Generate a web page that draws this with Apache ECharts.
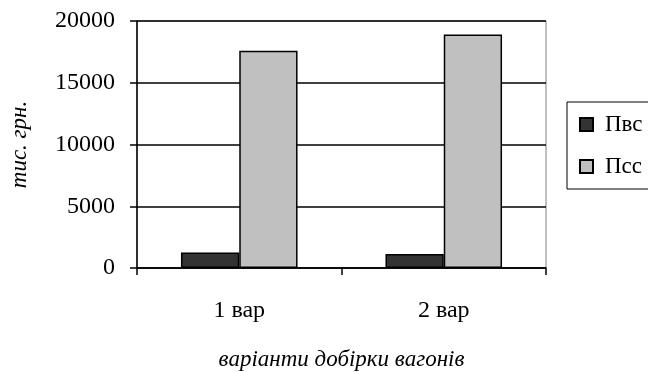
<!DOCTYPE html>
<html>
<head>
<meta charset="utf-8">
<script src="https://cdn.jsdelivr.net/npm/echarts@6/dist/echarts.min.js"></script>
<style>
html,body{margin:0;padding:0;background:#fff;}
#c{width:648px;height:372px;}
</style>
</head>
<body>
<div id="c"></div>
<script>
const categories = ['1 вар', '2 вар'];
const seriesNames = ['Пвс', 'Псс'];
const pvsValues = [1260, 1130];
const pssValues = [17600, 18900];
const yTicks = [0, 5000, 10000, 15000, 20000];

const FONT = '"Liberation Serif", "Times New Roman", serif';
const chart = echarts.init(document.getElementById('c'), null, {renderer: 'canvas'});
chart.setOption({
  animation: false,
  backgroundColor: '#ffffff',
  grid: {left: 137, right: 102, top: 21, bottom: 104, show: true, borderColor: '#808080', borderWidth: 1,
         containLabel: false, outerBoundsMode: 'none'},
  legend: {
    orient: 'vertical',
    left: 567, top: 102,
    padding: [11, 60, 11, 12],
    itemWidth: 13, itemHeight: 13,
    itemGap: 19,
    borderColor: '#000', borderWidth: 1,
    icon: 'rect',
    data: seriesNames,
    textStyle: {fontFamily: FONT, fontSize: 23, color: '#000', padding: [0, 0, 0, 7]}
  },
  xAxis: {
    type: 'category',
    data: categories,
    name: 'варіанти добірки вагонів',
    nameLocation: 'middle',
    nameGap: 80,
    nameTextStyle: {fontFamily: FONT, fontStyle: 'italic', fontSize: 23, color: '#000'},
    axisLine: {show: true, lineStyle: {color: '#000', width: 1.5}},
    axisTick: {show: true, length: 7, lineStyle: {color: '#000', width: 1.5}},
    axisLabel: {fontFamily: FONT, fontSize: 24, color: '#000', margin: 31}
  },
  yAxis: {
    type: 'value',
    min: yTicks[0], max: yTicks[yTicks.length - 1], interval: 5000,
    name: 'тис. грн.',
    nameLocation: 'middle',
    nameGap: 106,
    nameRotate: 90,
    nameTextStyle: {fontFamily: FONT, fontStyle: 'italic', fontSize: 23, color: '#000'},
    axisLine: {show: true, lineStyle: {color: '#000', width: 1.5}},
    axisTick: {show: true, length: 7, lineStyle: {color: '#000', width: 1.5}},
    axisLabel: {fontFamily: FONT, fontSize: 24, color: '#000', margin: 22,
                formatter: function (v) { return String(v); }},
    splitLine: {show: true, lineStyle: {color: '#000', width: 1.5}}
  },
  series: [
    {
      name: seriesNames[0], type: 'bar', data: pvsValues,
      barGap: '0%', barCategoryGap: '43%',
      itemStyle: {color: '#333333', borderColor: '#000', borderWidth: 1.5}
    },
    {
      name: seriesNames[1], type: 'bar', data: pssValues,
      barGap: '0%', barCategoryGap: '43%',
      itemStyle: {color: '#c0c0c0', borderColor: '#000', borderWidth: 1.5}
    }
  ]
});
</script>
</body>
</html>
